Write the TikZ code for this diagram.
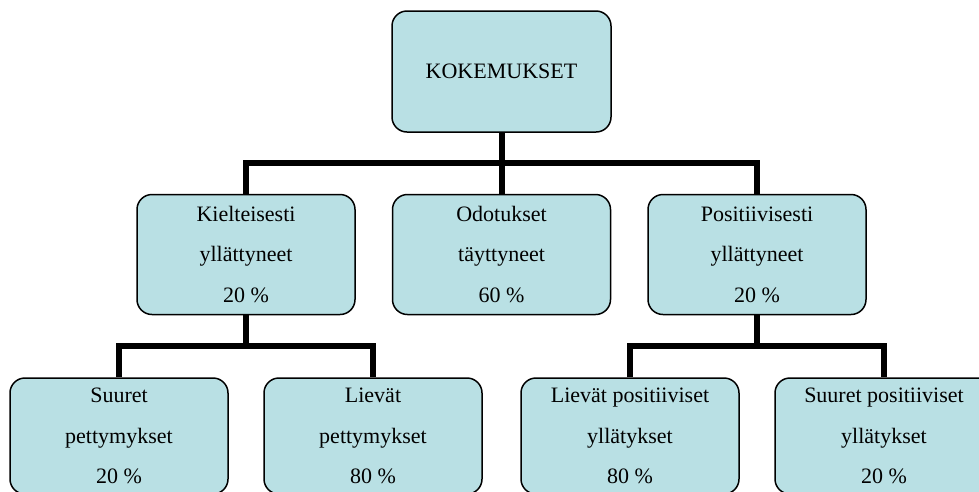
\documentclass[tikz,border=0pt]{standalone}
\usepackage{fontspec}
\setmainfont{Liberation Serif}
\usepackage{xcolor}
\usetikzlibrary{positioning}
\definecolor{boxblue}{RGB}{185,224,228}

\begin{document}
\begin{tikzpicture}[x=1pt, y=1pt, node distance=36pt,
      catbox/.style={rectangle, draw, line width=1.5pt, rounded corners=15pt, fill=boxblue, minimum width=218pt, minimum height=120pt, align=center, inner sep=0pt, font=\fontsize{22}{40.5}\selectfont},
      subbox/.style={catbox, minimum height=116pt},
      conn/.style={line width=6pt}]
      \useasboundingbox (0,0) rectangle (979,-491);
      \clip (0,0) rectangle (979,-491);
      % top and middle level
      \node[catbox, minimum width=219pt, minimum height=121pt] (kok) at (501.5,-71.5) {KOKEMUKSET};
      \node[catbox, below=61pt of kok] (odo) {Odotukset\\täyttyneet\\60 \%};
      \node[catbox, left=of odo] (kiel) {Kielteisesti\\yllättyneet\\20 \%};
      \node[catbox, right=of odo] (pos) {Positiivisesti\\yllättyneet\\20 \%};
      % bottom level
      \node[subbox, below=62pt of kiel, xshift=-127pt] (suu) {Suuret\\pettymykset\\20 \%};
      \node[subbox, below=62pt of kiel, xshift=127pt] (liev) {Lievät\\pettymykset\\80 \%};
      \node[subbox, below=62pt of pos, xshift=-127pt] (lpos) {Lievät positiiviset\\yllätykset\\80 \%};
      \node[subbox, below=62pt of pos, xshift=127pt] (spos) {Suuret positiiviset\\yllätykset\\20 \%};
      % connectors
      \path (kok.south) ++(0,-30) coordinate (topbar);
      \path (kiel.south) ++(0,-31) coordinate (leftbar);
      \path (pos.south) ++(0,-31) coordinate (rightbar);
      \draw[conn] (kok.south) -- (odo.north);
      \draw[conn] (kiel.north) |- (topbar) -| (pos.north);
      \draw[conn] (kiel.south) -- (leftbar);
      \draw[conn] (suu.north) |- (leftbar) -| (liev.north);
      \draw[conn] (pos.south) -- (rightbar);
      \draw[conn] (lpos.north) |- (rightbar) -| (spos.north);
    \end{tikzpicture}
\end{document}
